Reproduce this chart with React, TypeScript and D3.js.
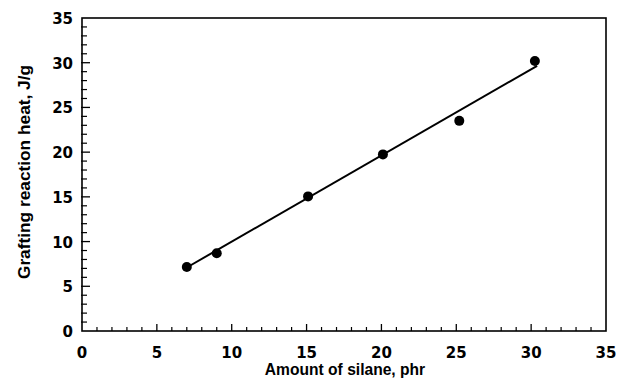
import { useEffect, useRef } from "react";
import * as d3 from "d3";

// measured points
const silane = [7.0, 9.0, 15.1, 20.1, 25.2, 30.25];
const heat = [7.15, 8.7, 15.05, 19.75, 23.5, 30.2];

// fitted line ends
const fitX = [7.0, 30.4];
const fitY = [7.1, 29.65];

const majorTicks = [0, 5, 10, 15, 20, 25, 30, 35];
const minorTicks = d3.range(0, 36, 1).filter(v => v % 5 !== 0);

const App = () => {
  const ref = useRef<SVGSVGElement>(null);

  useEffect(() => {
    const width = 617;
    const height = 379;
    const left = 82, right = 606, top = 18, bottom = 331;

    const svg = d3.select(ref.current);
    svg.selectAll("*").remove();

    const x = d3.scaleLinear().domain([0, 35]).range([left, right]);
    const y = d3.scaleLinear().domain([0, 35]).range([bottom, top]);

    const font = "'Liberation Sans', Arial, sans-serif";
    const tickFont = "'DejaVu Sans', sans-serif";

    // frame
    svg.append("rect")
      .attr("x", left).attr("y", top)
      .attr("width", right - left).attr("height", bottom - top)
      .attr("fill", "none").attr("stroke", "#000").attr("stroke-width", 1.6);

    // x ticks, drawn inward
    svg.append("g").selectAll("line")
      .data(majorTicks.slice(1, -1))
      .join("line")
      .attr("x1", d => x(d)).attr("x2", d => x(d))
      .attr("y1", bottom).attr("y2", bottom - 7)
      .attr("stroke", "#000").attr("stroke-width", 1.3);
    svg.append("g").selectAll("line")
      .data(minorTicks)
      .join("line")
      .attr("x1", d => x(d)).attr("x2", d => x(d))
      .attr("y1", bottom).attr("y2", bottom - 4)
      .attr("stroke", "#000").attr("stroke-width", 1.2);

    // y ticks
    svg.append("g").selectAll("line")
      .data(majorTicks.slice(1, -1))
      .join("line")
      .attr("y1", d => y(d)).attr("y2", d => y(d))
      .attr("x1", left - 1).attr("x2", left + 8)
      .attr("stroke", "#000").attr("stroke-width", 1.3);
    svg.append("g").selectAll("line")
      .data(minorTicks)
      .join("line")
      .attr("y1", d => y(d)).attr("y2", d => y(d))
      .attr("x1", left - 1).attr("x2", left + 5)
      .attr("stroke", "#000").attr("stroke-width", 1.2);

    // tick labels
    svg.append("g").selectAll("text")
      .data(majorTicks)
      .join("text")
      .attr("x", d => x(d)).attr("y", bottom + 27)
      .attr("text-anchor", "middle")
      .attr("font-family", tickFont).attr("font-weight", "bold").attr("font-size", 15)
      .text(d => d);
    svg.append("g").selectAll("text")
      .data(majorTicks)
      .join("text")
      .attr("x", left - 9).attr("y", d => y(d) + 6)
      .attr("text-anchor", "end")
      .attr("font-family", tickFont).attr("font-weight", "bold").attr("font-size", 15)
      .text(d => d);

    // axis titles
    svg.append("text")
      .attr("x", 345).attr("y", 375)
      .attr("text-anchor", "middle")
      .attr("font-family", font).attr("font-weight", "bold").attr("font-size", 15.6)
      .text("Amount of silane, phr");
    svg.append("text")
      .attr("transform", `translate(30,172) rotate(-90)`)
      .attr("text-anchor", "middle")
      .attr("font-family", font).attr("font-weight", "bold").attr("font-size", 17.3)
      .text("Grafting reaction heat, J/g");

    // fit line
    const line = d3.line<number>()
      .x(d => x(d))
      .y((d, i) => y(fitY[i]));
    svg.append("path")
      .datum(fitX)
      .attr("d", line)
      .attr("fill", "none").attr("stroke", "#000").attr("stroke-width", 2);

    // points
    svg.append("g").selectAll("circle")
      .data(silane)
      .join("circle")
      .attr("cx", d => x(d))
      .attr("cy", (d, i) => y(heat[i]))
      .attr("r", 5)
      .attr("fill", "#000");

    svg.attr("width", width).attr("height", height);
  }, []);

  return (
    <svg ref={ref} width={617} height={379}
      style={{ position: "absolute", left: 0, top: 0, background: "#fff" }} />
  );
};

export default App;
